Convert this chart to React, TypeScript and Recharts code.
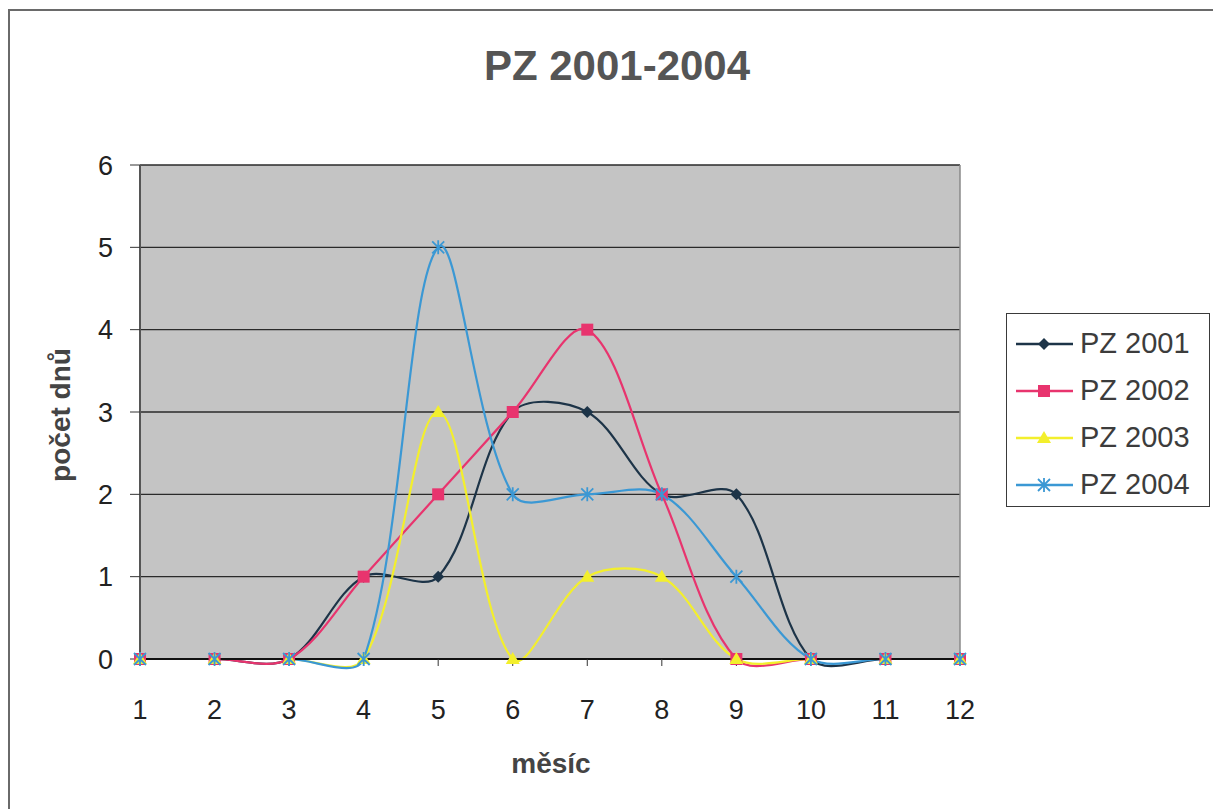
import React from 'react';
import { LineChart, Line, XAxis, YAxis, CartesianGrid, ReferenceLine } from 'recharts';

const months = ['1', '2', '3', '4', '5', '6', '7', '8', '9', '10', '11', '12'];
const pz2001 = [0, 0, 0, 1, 1, 3, 3, 2, 2, 0, 0, 0];
const pz2002 = [0, 0, 0, 1, 2, 3, 4, 2, 0, 0, 0, 0];
const pz2003 = [0, 0, 0, 0, 3, 0, 1, 1, 0, 0, 0, 0];
const pz2004 = [0, 0, 0, 0, 5, 2, 2, 2, 1, 0, 0, 0];
const yTicks = [0, 1, 2, 3, 4, 5, 6];

const series = [
  { key: 'pz2001', name: 'PZ 2001', color: '#1d3448', marker: 'diamond' },
  { key: 'pz2002', name: 'PZ 2002', color: '#e8346e', marker: 'square' },
  { key: 'pz2003', name: 'PZ 2003', color: '#f3ef2c', marker: 'triangle' },
  { key: 'pz2004', name: 'PZ 2004', color: '#3b98d4', marker: 'star' },
];

const data = months.map((month, i) => ({
  month,
  pz2001: pz2001[i],
  pz2002: pz2002[i],
  pz2003: pz2003[i],
  pz2004: pz2004[i],
}));

const FONT = '"Liberation Sans", Arial, sans-serif';

const dist = (a: number[], b: number[]) => Math.hypot(b[0] - a[0], b[1] - a[1]);

// Office-style smoothed line: bezier segments whose handles are scaled by chord length
const smoothCurve = (context: any) => {
  let pts: number[][] = [];
  return {
    areaStart() {},
    areaEnd() {},
    lineStart() {
      pts = [];
    },
    point(x: number, y: number) {
      pts.push([+x, +y]);
    },
    lineEnd() {
      const n = pts.length;
      if (!n) return;
      context.moveTo(pts[0][0], pts[0][1]);
      for (let i = 0; i < n - 1; i++) {
        const p0 = pts[Math.max(i - 1, 0)];
        const p1 = pts[i];
        const p2 = pts[i + 1];
        const p3 = pts[Math.min(i + 2, n - 1)];
        const d01 = dist(p0, p1);
        const d12 = dist(p1, p2);
        const d23 = dist(p2, p3);
        const f1 = d01 + d12 > 0 ? Math.min((2 * d12) / (d01 + d12), 1.6) / 6 : 0;
        const f2 = d12 + d23 > 0 ? Math.min((2 * d12) / (d12 + d23), 1.6) / 6 : 0;
        context.bezierCurveTo(
          p1[0] + (p2[0] - p0[0]) * f1,
          p1[1] + (p2[1] - p0[1]) * f1,
          p2[0] - (p3[0] - p1[0]) * f2,
          p2[1] - (p3[1] - p1[1]) * f2,
          p2[0],
          p2[1]
        );
      }
    },
  };
};

const Marker = ({ x, y, shape, color }: { x: number; y: number; shape: string; color: string }) => {
  if (shape === 'diamond') {
    const r = 6;
    return <path d={`M${x},${y - r}L${x + r},${y}L${x},${y + r}L${x - r},${y}Z`} fill={color} />;
  }
  if (shape === 'square') {
    return <rect x={x - 6} y={y - 6} width={12} height={12} fill={color} />;
  }
  if (shape === 'triangle') {
    return <path d={`M${x},${y - 7}L${x + 7},${y + 5}L${x - 7},${y + 5}Z`} fill={color} />;
  }
  return (
    <path
      d={`M${x - 6},${y - 6}L${x + 6},${y + 6}M${x + 6},${y - 6}L${x - 6},${y + 6}M${x},${y - 7}L${x},${y + 7}`}
      stroke={color}
      strokeWidth={1.8}
      fill="none"
    />
  );
};

const makeDot = (shape: string, color: string) => (props: any) => {
  const { cx, cy, index } = props;
  if (cx == null || cy == null) return <g key={index} />;
  return <Marker key={index} x={cx} y={cy} shape={shape} color={color} />;
};

const LegendBox = () => (
  <div
    style={{
      position: 'absolute',
      left: 1006,
      top: 313,
      width: 204,
      height: 194,
      boxSizing: 'border-box',
      border: '1.5px solid #3a3a3a',
      background: '#fff',
      paddingTop: 6,
    }}
  >
    {series.map((s) => (
      <div key={s.key} style={{ height: 47, display: 'flex', alignItems: 'center' }}>
        <svg width={72} height={20} style={{ flexShrink: 0 }}>
          <line x1={9} y1={10} x2={66} y2={10} stroke={s.color} strokeWidth={2.5} />
          <Marker x={37} y={10} shape={s.marker} color={s.color} />
        </svg>
        <span style={{ fontFamily: FONT, fontSize: 29, color: '#3c3c3c', marginLeft: 1 }}>{s.name}</span>
      </div>
    ))}
  </div>
);

export default function App() {
  return (
    <div
      style={{
        position: 'absolute',
        left: 0,
        top: 0,
        width: 1213,
        height: 809,
        background: '#fff',
        overflow: 'hidden',
        fontFamily: FONT,
      }}
    >
      <LineChart
        width={1213}
        height={809}
        data={data}
        margin={{ top: 165, right: 253, bottom: 0, left: 0 }}
      >
        <CartesianGrid vertical={false} fill="#c4c4c4" stroke="#2a2a2a" strokeWidth={1.4} />
        <XAxis
          dataKey="month"
          height={150}
          interval={0}
          tickSize={7}
          tickMargin={34}
          axisLine={{ stroke: '#111', strokeWidth: 2 }}
          tickLine={{ stroke: '#333' }}
          tick={{ fontSize: 27, fill: '#222', fontFamily: FONT }}
        />
        <YAxis
          width={140}
          domain={[0, 6]}
          ticks={yTicks}
          interval={0}
          tickSize={10}
          tickMargin={17}
          axisLine={{ stroke: '#555', strokeWidth: 2 }}
          tickLine={{ stroke: '#333' }}
          tick={{ fontSize: 27, fill: '#222', fontFamily: FONT }}
        />
        <ReferenceLine x="12" stroke="#8a8a8a" strokeWidth={1.5} />
        {series.map((s) => (
          <Line
            key={s.key}
            dataKey={s.key}
            name={s.name}
            type={smoothCurve as any}
            stroke={s.color}
            strokeWidth={2.2}
            dot={makeDot(s.marker, s.color)}
            activeDot={false}
            isAnimationActive={false}
          />
        ))}
      </LineChart>

      <LegendBox />

      <svg
        width={1213}
        height={809}
        style={{ position: 'absolute', left: 0, top: 0, pointerEvents: 'none' }}
      >
        <path d="M9,809V10H1213" stroke="#6a6a6a" strokeWidth={2} fill="none" />
        <text x={617} y={80} textAnchor="middle" fontSize={42} fontWeight="bold" fill="#555" fontFamily={FONT}>
          PZ 2001-2004
        </text>
        <text
          x={70}
          y={415}
          transform="rotate(-90 70 415)"
          textAnchor="middle"
          fontSize={28}
          fontWeight="bold"
          fill="#444"
          fontFamily={FONT}
        >
          počet dnů
        </text>
        <text x={551} y={773} textAnchor="middle" fontSize={28} fontWeight="bold" fill="#444" fontFamily={FONT}>
          měsíc
        </text>
      </svg>
    </div>
  );
}
